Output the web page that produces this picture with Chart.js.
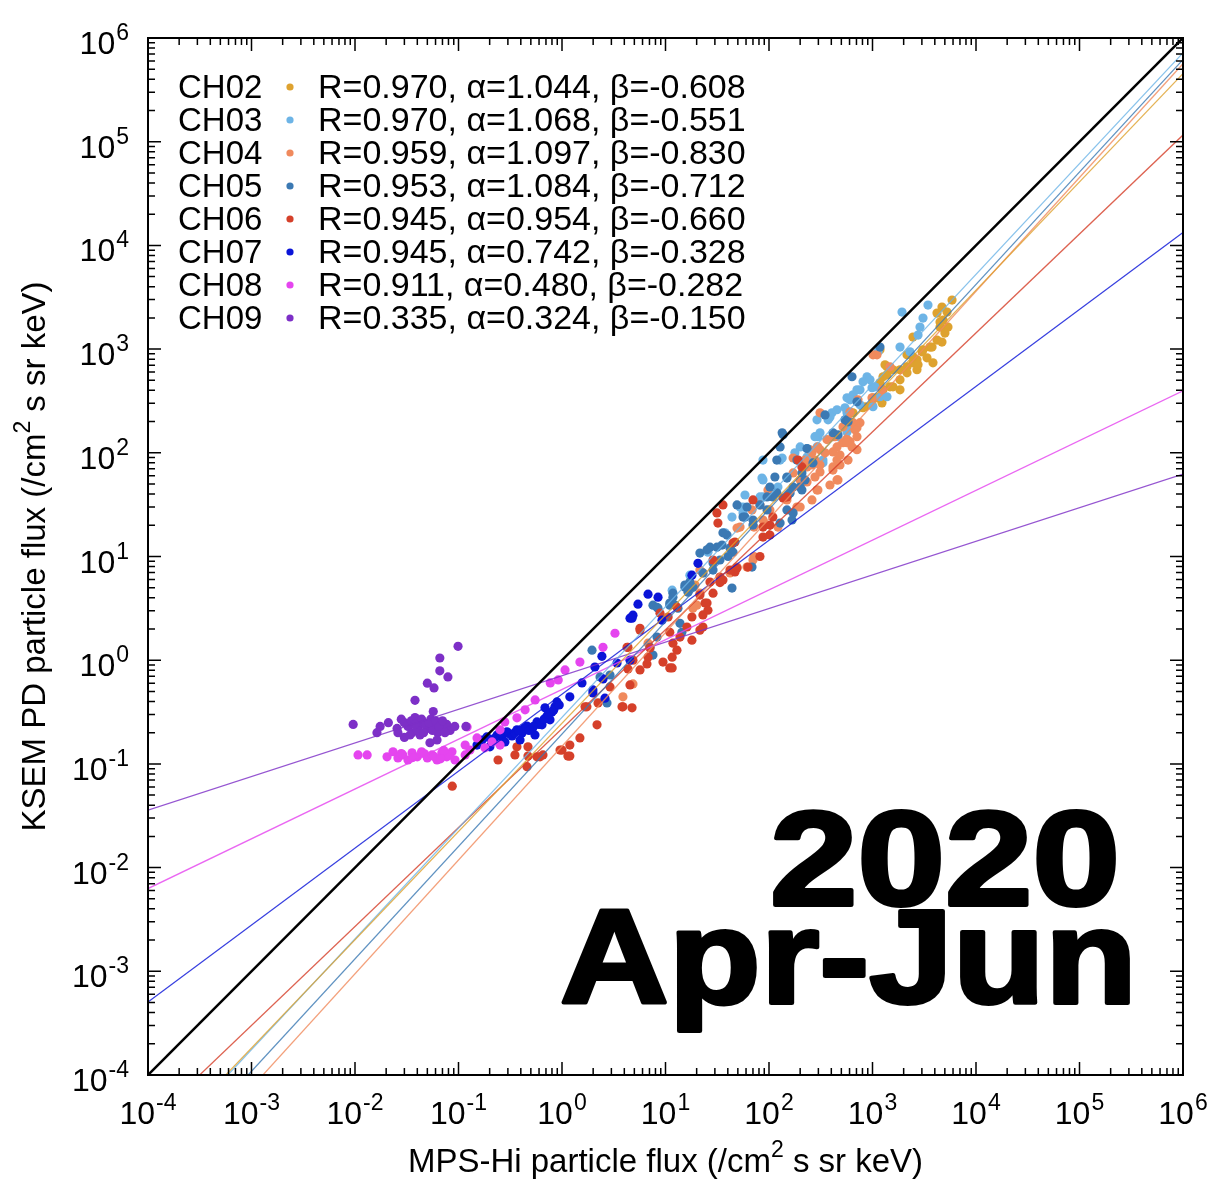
<!DOCTYPE html>
<html>
<head>
<meta charset="utf-8">
<title>KSEM PD vs MPS-Hi particle flux</title>
<script src="https://cdn.jsdelivr.net/npm/chart.js@4.4.1/dist/chart.umd.min.js"></script>
<style>
  html, body { margin: 0; padding: 0; background: #fff; }
  canvas { display: block; }
</style>
</head>
<body>
<canvas id="fluxChart" width="1230" height="1181"></canvas>
<script>
// Channel fit results (log10 y = alpha * log10 x + beta)
const channels = ['CH02', 'CH03', 'CH04', 'CH05', 'CH06', 'CH07', 'CH08', 'CH09'];
const corrR = [0.970, 0.970, 0.959, 0.953, 0.945, 0.945, 0.911, 0.335];
const alphas = [1.044, 1.068, 1.097, 1.084, 0.954, 0.742, 0.480, 0.324];
const betas = [-0.608, -0.551, -0.830, -0.712, -0.660, -0.328, -0.282, -0.150];
const colors = ['#dea22f', '#6db4e6', '#f08a5d', '#3b79b3', '#d5402a', '#0a14d8', '#e545ef', '#7d2fc7'];

// axis decades: 10^-4 .. 10^6 on both axes
const tickExponents = [-4, -3, -2, -1, 0, 1, 2, 3, 4, 5, 6];
const xRange = [1e-4, 1e6];

// [MPS-Hi flux, KSEM PD flux]
const ch02 = [[5870,2970],[5250,2275],[4800,1905],[5360,1630],[5010,1427],[4200,1222],[3590,1045],[3010,942],[3360,824],[2460,738],[2690,632],[2155,591],[1844,506],[1578,632],[1380,675],[1263,541],[1181,473],[1476,433],[1844,405],[1235,303],[1011,339],[847,278],[648,243],[1181,984],[2690,788],[3840,738],[2460,1306],[4490,1630],[4200,2223],[4690,2541],[4490,1821],[4690,1168],[3760,1045],[3076,984],[2460,843],[2754,706],[2155,675],[1844,632],[1476,660],[1321,706],[1380,565],[1578,433],[1263,405],[1105,339],[989,290],[810,272],[2155,881]];
const ch03 = [[1928,2275],[3436,2656],[3076,1991],[2877,1630],[2754,1365],[1844,1045],[2303,942],[1130,942],[885,541],[810,484],[989,424],[1181,347],[648,362],[567,339],[567,243],[708,405],[1011,278],[406,243],[372,208],[297,143],[464,143],[291,114],[200,114],[178,100],[134,89],[87.5,85],[87.5,54.7],[122,46.8],[56.1,30.0],[81.8,37.5],[946,506],[757,405],[1056,433],[1380,347],[606,324],[542,272],[567,178],[278,143],[332,85],[233,91],[757,290],[85.5,57.1],[87.5,37.5],[56.1,26.3],[128,85],[233,110],[311,156],[291,208],[388,222],[454,260],[332,80],[567,159],[708,186],[52.5,30.0],[58.6,39.2],[43.9,24.0],[37.6,16.9],[25.7,11.0],[17.2,6.6],[11.6,4.73]];
const ch04 = [[1011,881],[724,324],[606,248],[580,208],[757,195],[708,174],[519,178],[415,143],[454,114],[567,134],[634,114],[708,107],[580,85],[415,73],[454,54.7],[311,107],[260,100],[278,85],[311,65.3],[233,73],[171,63.9],[200,54.7],[297,43.8],[200,30],[149,35.1],[102,28.1],[87.5,22.5],[52.5,19.2],[122,19.2],[1105,881],[1476,675],[1235,405],[989,339],[648,195],[434,143],[606,128],[678,167],[519,125],[415,102],[454,85],[311,243],[297,114],[348,100],[415,68.2],[485,76.3],[249,107],[223,85],[311,76.3],[278,58.4],[388,48.9],[363,134],[485,95.2],[567,125],[708,143],[464,54.7],[260,76.3],[233,52.3],[260,35.1],[186,30],[291,43.8],[171,89.1],[97.8,43.8],[81.8,31.4],[68.5,28.1],[71.6,19.2],[49.1,18.8],[70,9.25],[49.1,7.9],[42,6.94],[61.3,7.9],[71.6,10],[23,6.94],[21.5,4.43],[18.4,3.17],[21.5,7.4],[19.3,5.31],[20.1,3.39],[6.78,1.46],[4.85,0.59],[3.88,0.443]];
const ch05 = [[1.95,1.25],[2.33,0.69],[2.91,0.72],[2.72,0.387],[7.57,3.39],[11.0,3.56],[7.08,1.33],[7.57,1.12],[8.28,1.67],[11.8,4.43],[12.4,3.39],[8.28,3.24],[15.4,5.06],[17.2,5.67],[21.5,10.8],[26.9,12.3],[28.8,8.66],[35.2,12.9],[42.0,12.1],[43.9,4.96],[39.3,16.1],[56.1,24.0],[61.3,30.0],[70,20.1],[81.8,31.4],[102,46.8],[109,37.5],[128,21.0],[149,28.1],[171,26.3],[153,39.2],[200,46.8],[128,114],[137,149],[119,85],[149,57.1],[171,46.8],[119,41.0],[95.7,37.5],[95.7,28.1],[167,22.5],[58.6,24.0],[70,22.5],[35.9,16.9],[44.9,11.0],[40.2,10],[31.4,12.3],[25.2,11.6],[33.6,9.25],[28.8,7.4],[23.0,6.94],[68.5,7.9],[18.4,5.06],[15.4,5.31],[11.8,4.05],[16.5,4.53],[13.2,3.17],[11.0,3.39],[14.4,1.86],[13.8,2.27],[8.47,3.17],[208,43.8],[223,54.7],[134,156],[186,85],[634,541],[708,310],[1181,1045],[348,232],[415,156],[542,208],[114,58.4],[149,58.4],[208,63.9],[160,41.0],[49.1,31.4],[464,149],[580,199],[266,79.8],[233,110]];
const ch06 = [[0.087,0.061],[0.241,0.109],[0.367,0.146],[0.469,0.146],[0.459,0.094],[0.613,0.117],[1.0,0.136],[1.19,0.152],[1.19,0.119],[1.49,0.178],[2.18,0.238],[1.74,0.355],[2.23,0.387],[3.8,0.355],[4.75,0.347],[2.91,0.553],[4.54,0.578],[4.34,0.824],[5.67,0.806],[4.85,1.0],[6.78,1.07],[5.67,2.03],[11.0,1.86],[11.0,0.843],[11.8,1.46],[7.08,1.31],[4.34,1.33],[35.9,31.4],[31.4,26.3],[32.1,21.0],[70,35.1],[21.5,4.25],[25.2,3.56],[23.0,2.73],[18.0,2.61],[16.1,2.09],[18.0,1.56],[13.8,1.67],[12.9,1.25],[11.6,1.07],[9.46,0.96],[11.6,0.843],[6.62,0.92],[8.85,2.84],[10.6,2.61],[12.9,3.24],[23.0,2.09],[28.8,4.43],[28.8,9.25],[35.9,5.93],[46.9,7.09],[62.7,7.9],[81.8,10],[102,16.1],[46.9,13.8],[87.5,19.2],[109,24.0],[137,36.6],[191,85],[208,73],[149,37.5],[102,20.1],[87.5,15.4],[44.9,13.5],[49.1,7.74],[42.0,7.4],[33.6,6.34],[26.9,5.67],[33.6,5.6],[24.1,3.56],[25.7,3.03],[21.5,1.95],[5.67,1.95],[0.351,0.122],[0.469,0.119],[0.573,0.117],[0.655,0.122],[0.957,0.136],[1.14,0.119],[1.67,0.355],[3.88,0.355],[4.25,1.33]];
const ch07 = [[0.151,0.152],[0.169,0.170],[0.188,0.182],[0.211,0.163],[0.236,0.190],[0.263,0.178],[0.294,0.204],[0.329,0.186],[0.367,0.213],[0.411,0.199],[0.459,0.232],[0.513,0.213],[0.573,0.254],[0.641,0.238],[0.716,0.29],[0.80,0.317],[0.855,0.355],[0.766,0.266],[0.548,0.19],[0.393,0.17],[0.281,0.163],[0.201,0.146],[0.685,0.347],[0.895,0.396],[1.19,0.443],[1.56,0.604],[1.99,0.517],[1.99,0.484],[2.6,0.43],[2.08,0.86],[2.43,1.09],[2.49,0.66],[3.4,0.94],[4.54,1.0],[4.54,2.54],[4.85,2.72],[5.42,3.47],[6.78,4.33],[8.47,4.05],[4.75,2.54],[9.25,2.43],[18.0,6.6],[20.6,8.6],[0.22,0.175],[0.25,0.20],[0.31,0.195],[0.35,0.20],[0.43,0.22],[0.48,0.21],[0.60,0.24],[0.67,0.27],[0.74,0.30],[0.83,0.33],[0.94,0.37],[0.53,0.23],[0.38,0.21]];
const ch08 = [[0.0107,0.122],[0.0131,0.122],[0.0204,0.117],[0.0233,0.131],[0.026,0.114],[0.029,0.122],[0.0325,0.109],[0.0356,0.128],[0.040,0.117],[0.044,0.131],[0.050,0.114],[0.0555,0.122],[0.062,0.109],[0.069,0.128],[0.077,0.117],[0.0865,0.131],[0.0925,0.109],[0.116,0.122],[0.116,0.152],[0.121,0.227],[0.151,0.178],[0.180,0.143],[0.211,0.163],[0.252,0.213],[0.252,0.152],[0.28,0.254],[0.367,0.278],[0.44,0.332],[0.55,0.414],[0.77,0.604],[0.92,0.646],[1.07,0.806],[1.49,0.96],[2.49,1.33],[3.25,1.82],[0.129,0.136],[0.036,0.115],[0.047,0.125],[0.058,0.118],[0.067,0.112],[0.082,0.121],[0.028,0.126],[0.072,0.135]];
const ch09 = [[0.0096,0.24],[0.0163,0.20],[0.0175,0.23],[0.021,0.25],[0.0255,0.22],[0.028,0.27],[0.030,0.18],[0.0325,0.23],[0.0356,0.20],[0.038,0.28],[0.041,0.23],[0.0425,0.19],[0.045,0.25],[0.050,0.22],[0.053,0.16],[0.054,0.27],[0.057,0.32],[0.059,0.23],[0.063,0.20],[0.068,0.25],[0.072,0.22],[0.077,0.24],[0.083,0.21],[0.092,0.23],[0.118,0.23],[0.038,0.41],[0.050,0.60],[0.058,0.54],[0.079,0.69],[0.066,0.79],[0.066,1.05],[0.099,1.36],[0.034,0.19],[0.026,0.20],[0.062,0.17],[0.030,0.25],[0.035,0.26],[0.040,0.21],[0.044,0.27],[0.048,0.24],[0.052,0.25],[0.056,0.21],[0.060,0.26],[0.065,0.23],[0.070,0.26],[0.046,0.20],[0.038,0.24],[0.074,0.20]];
const seriesData = [ch02, ch03, ch04, ch05, ch06, ch07, ch08, ch09];

const FONT = "'Liberation Sans', Arial, Helvetica, sans-serif";

const toPoints = arr => arr.map(([x, y]) => ({ x, y }));

// straight power-law fit over the full x range
const fitLine = i => xRange.map(x => ({ x, y: Math.pow(10, alphas[i] * Math.log10(x) + betas[i]) }));

const datasets = [];

// 1:1 reference line
datasets.push({
    type: 'line',
    data: xRange.map(x => ({ x, y: x })),
    borderColor: '#000',
    borderWidth: 2.5,
    pointRadius: 0,
    order: 0
});

channels.forEach((ch, i) => {
    datasets.push({
        type: 'line',
        data: fitLine(i),
        borderColor: colors[i] + 'd0',
        borderWidth: 1.3,
        pointRadius: 0,
        order: 1
    });
    datasets.push({
        type: 'scatter',
        label: ch,
        data: toPoints(seriesData[i]),
        backgroundColor: colors[i],
        borderWidth: 0,
        pointRadius: 4.6,
        order: 20 - i
    });
});

// "10" with a raised exponent
function drawPower(ctx, exp, x, baseline, align) {
    ctx.font = `32px ${FONT}`;
    const wBase = ctx.measureText('10').width;
    ctx.font = `23px ${FONT}`;
    const wExp = ctx.measureText(exp).width;
    const total = wBase + 1 + wExp;
    const left = align === 'center' ? x - total / 2 : x - total;
    ctx.textAlign = 'left';
    ctx.font = `32px ${FONT}`;
    ctx.fillText('10', left, baseline);
    ctx.font = `23px ${FONT}`;
    ctx.fillText(exp, left + wBase + 1, baseline - 14);
}

// text pieces with the "2" of cm² raised
function drawUnitTitle(ctx, head, tail, cx, baseline) {
    ctx.font = `33px ${FONT}`;
    const w1 = ctx.measureText(head).width;
    const w3 = ctx.measureText(tail).width;
    ctx.font = `23px ${FONT}`;
    const w2 = ctx.measureText('2').width;
    let x = cx - (w1 + w2 + w3) / 2;
    ctx.textAlign = 'left';
    ctx.font = `33px ${FONT}`;
    ctx.fillText(head, x, baseline);
    x += w1;
    ctx.font = `23px ${FONT}`;
    ctx.fillText('2', x, baseline - 15);
    x += w2;
    ctx.font = `33px ${FONT}`;
    ctx.fillText(tail, x, baseline);
}

function drawBigText(ctx, text, right, baseline, width) {
    ctx.font = `bold 133px ${FONT}`;
    const w = ctx.measureText(text).width;
    ctx.save();
    ctx.translate(right, baseline);
    ctx.scale(width / w, 1);
    ctx.textAlign = 'right';
    ctx.lineWidth = 4;
    ctx.lineJoin = 'round';
    ctx.fillText(text, 0, 0);
    ctx.strokeText(text, 0, 0);
    ctx.restore();
}

const framePlugin = {
    id: 'frame',
    afterDraw(chart) {
        const { ctx, chartArea: a } = chart;
        const xs = chart.scales.x, ys = chart.scales.y;
        ctx.save();
        ctx.fillStyle = '#000';
        ctx.strokeStyle = '#000';

        // inward major/minor ticks on all four sides
        ctx.lineWidth = 1.5;
        ctx.beginPath();
        tickExponents.forEach(e => {
            const mults = e === 6 ? [1] : [1, 2, 3, 4, 5, 6, 7, 8, 9];
            mults.forEach(m => {
                const v = m * Math.pow(10, e);
                const len = m === 1 ? 13 : 7;
                const px = xs.getPixelForValue(v);
                const py = ys.getPixelForValue(v);
                ctx.moveTo(px, a.bottom); ctx.lineTo(px, a.bottom - len);
                ctx.moveTo(px, a.top); ctx.lineTo(px, a.top + len);
                ctx.moveTo(a.left, py); ctx.lineTo(a.left + len, py);
                ctx.moveTo(a.right, py); ctx.lineTo(a.right - len, py);
            });
        });
        ctx.stroke();

        ctx.lineWidth = 2;
        ctx.strokeRect(a.left, a.top, a.right - a.left, a.bottom - a.top);

        // tick labels
        ctx.textBaseline = 'alphabetic';
        tickExponents.forEach(e => {
            const v = Math.pow(10, e);
            drawPower(ctx, String(e), xs.getPixelForValue(v), a.bottom + 49, 'center');
            drawPower(ctx, String(e), a.left - 19, ys.getPixelForValue(v) + 16, 'right');
        });

        // axis titles
        drawUnitTitle(ctx, 'MPS-Hi particle flux (/cm', ' s sr keV)', (a.left + a.right) / 2, 1172);
        ctx.save();
        ctx.translate(45, (a.top + a.bottom) / 2);
        ctx.rotate(-Math.PI / 2);
        drawUnitTitle(ctx, 'KSEM PD particle flux (/cm', ' s sr keV)', 0, 0);
        ctx.restore();

        // legend with fit parameters
        channels.forEach((ch, i) => {
            const cy = 86 + 33 * i;
            ctx.fillStyle = '#000';
            ctx.textAlign = 'left';
            ctx.font = `33px ${FONT}`;
            ctx.fillText(ch, 178, cy + 12);
            ctx.font = `34px ${FONT}`;
            ctx.fillText(`R=${corrR[i].toFixed(3)}, α=${alphas[i].toFixed(3)}, β=${betas[i].toFixed(3)}`, 318, cy + 12);
            ctx.fillStyle = colors[i];
            ctx.beginPath();
            ctx.arc(290, cy + 1, 3.6, 0, Math.PI * 2);
            ctx.fill();
        });

        // period stamp
        ctx.fillStyle = '#000';
        ctx.strokeStyle = '#000';
        drawBigText(ctx, '2020', 1120, 905, 350);
        drawBigText(ctx, 'Apr-Jun', 1137, 1003, 577);
        ctx.restore();
    }
};

new Chart(document.getElementById('fluxChart'), {
    type: 'scatter',
    data: { datasets },
    options: {
        responsive: false,
        animation: false,
        devicePixelRatio: 1,
        layout: { padding: { left: 148, top: 38, right: 47, bottom: 106 } },
        plugins: {
            legend: { display: false },
            tooltip: { enabled: false }
        },
        scales: {
            x: { type: 'logarithmic', min: xRange[0], max: xRange[1], display: false },
            y: { type: 'logarithmic', min: 1e-4, max: 1e6, display: false }
        }
    },
    plugins: [framePlugin]
});
</script>
</body>
</html>
